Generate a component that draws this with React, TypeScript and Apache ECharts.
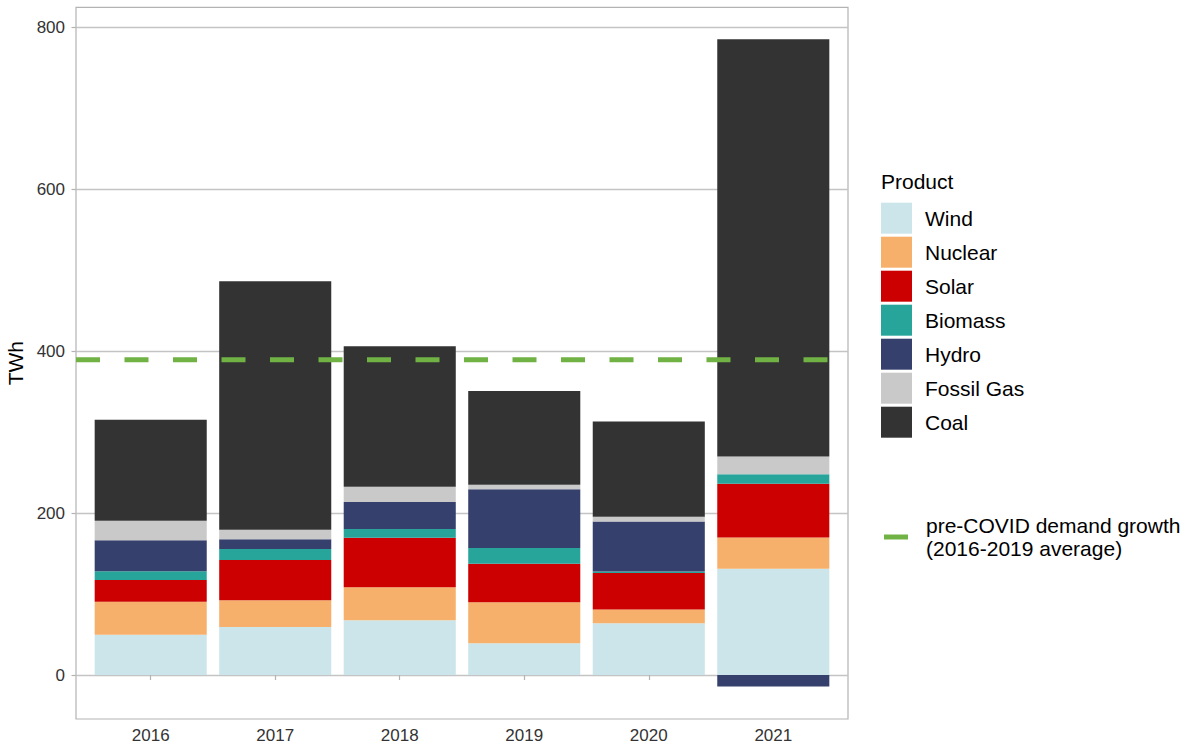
import React, { useEffect, useRef } from "react";
import * as echarts from "echarts";

const years = ["2016", "2017", "2018", "2019", "2020", "2021"];
const wind = [49.8, 59.3, 67.6, 39.2, 64.0, 131.4];
const nuclear = [40.7, 33.0, 40.7, 50.6, 16.8, 38.4];
const solar = [26.8, 49.7, 61.3, 47.7, 45.3, 66.6];
const biomass = [10.8, 13.6, 10.7, 19.4, 1.9, 11.5];
const hydro = [38.3, 12.0, 33.4, 72.5, 61.7, -14.1];
const fossilGas = [24.2, 11.9, 18.9, 5.7, 5.7, 22.1];
const coal = [124.7, 306.8, 173.4, 115.7, 117.8, 515.2];
const yTicks = [0, 200, 400, 600, 800];
const preCovidGrowth = 389.5;
const lineName = "pre-COVID demand growth\n(2016-2019 average)";

const productNames = ["Wind", "Nuclear", "Solar", "Biomass", "Hydro", "Fossil Gas", "Coal"];
const productValues = [wind, nuclear, solar, biomass, hydro, fossilGas, coal];
const productColors = ["#cce5ea", "#f6b06b", "#cc0000", "#27a59b", "#36406d", "#c9c9c9", "#333333"];

const FONT = "'Liberation Sans', Arial, sans-serif";
const Y_MIN = -54.3;
const Y_MAX = 824.7;

export default function App() {
  const ref = useRef<HTMLDivElement>(null);
  useEffect(() => {
    if (!ref.current) return;
    const chart = echarts.init(ref.current, null, { renderer: "svg" });
    const barSeries = productNames.map((name, i) => ({
      name,
      type: "bar",
      stack: "total",
      xAxisIndex: 1,
      yAxisIndex: 1,
      barCategoryGap: "10%",
      itemStyle: { color: productColors[i] },
      data: productValues[i],
      z: 2,
    }));
    chart.setOption({
      animation: false,
      textStyle: { fontFamily: FONT },
      title: {
        text: "Product",
        left: 881,
        top: 171,
        padding: 0,
        textStyle: { fontSize: 21, fontWeight: "normal", color: "#000", fontFamily: FONT },
      },
      grid: [
        {
          left: 76,
          right: 346,
          top: 7.3,
          bottom: 27,
          containLabel: false,
          outerBoundsMode: "none",
          show: true,
          borderColor: "#b3b3b3",
          borderWidth: 1.2,
          backgroundColor: "transparent",
        },
        {
          left: 88.45,
          right: 358.45,
          top: 7.3,
          bottom: 27,
          containLabel: false,
          outerBoundsMode: "none",
        },
      ],
      legend: [
        {
          data: productNames,
          orient: "vertical",
          left: 881,
          top: 202.7,
          itemWidth: 31,
          itemHeight: 31,
          itemGap: 3,
          icon: "rect",
          padding: 0,
          selectedMode: false,
          textStyle: { fontSize: 21, color: "#000", fontFamily: FONT, padding: [0, 0, 0, 8] },
        },
        {
          data: [{ name: lineName, icon: "rect", itemStyle: { color: "#70b244" } }],
          orient: "vertical",
          left: 884,
          top: 511,
          itemWidth: 24,
          itemHeight: 5,
          padding: 0,
          selectedMode: false,
          textStyle: {
            fontSize: 21,
            color: "#000",
            fontFamily: FONT,
            lineHeight: 23,
            padding: [6, 0, 0, 13],
          },
        },
      ],
      xAxis: [
        {
          type: "value",
          gridIndex: 0,
          min: 0,
          max: 1,
          show: false,
        },
        {
          type: "category",
          gridIndex: 1,
          data: years,
          axisLine: { show: false },
          axisTick: {
            show: true,
            alignWithLabel: true,
            length: 5,
            lineStyle: { color: "#b3b3b3", width: 1.2 },
          },
          axisLabel: { fontSize: 17, color: "#333", margin: 8, fontFamily: FONT },
          splitLine: { show: false },
        },
      ],
      yAxis: [
        {
          type: "value",
          gridIndex: 0,
          min: Y_MIN,
          max: Y_MAX,
          name: "TWh",
          nameLocation: "middle",
          nameGap: 47,
          nameTextStyle: { fontSize: 21, color: "#000", fontFamily: FONT },
          axisLine: { show: false },
          axisTick: {
            show: true,
            length: 4.5,
            customValues: yTicks,
            lineStyle: { color: "#b3b3b3", width: 1.2 },
          },
          axisLabel: {
            fontSize: 17,
            color: "#333",
            margin: 11,
            customValues: yTicks,
            fontFamily: FONT,
          },
          splitLine: { show: true, lineStyle: { color: "#c4c4c4", width: 1.3 } },
        },
        {
          type: "value",
          gridIndex: 1,
          min: Y_MIN,
          max: Y_MAX,
          show: false,
          splitLine: { show: false },
        },
      ],
      series: [
        ...barSeries,
        {
          name: lineName,
          type: "line",
          xAxisIndex: 0,
          yAxisIndex: 0,
          data: [
            [0, preCovidGrowth],
            [1, preCovidGrowth],
          ],
          symbol: "none",
          z: 5,
          lineStyle: { color: "#70b244", width: 5, type: [24, 24.5], cap: "butt" },
          itemStyle: { color: "#70b244" },
        },
      ],
    });
    return () => chart.dispose();
  }, []);
  return (
    <div
      ref={ref}
      style={{ position: "fixed", left: 0, top: 0, width: 1194, height: 746, background: "#fff" }}
    />
  );
}
